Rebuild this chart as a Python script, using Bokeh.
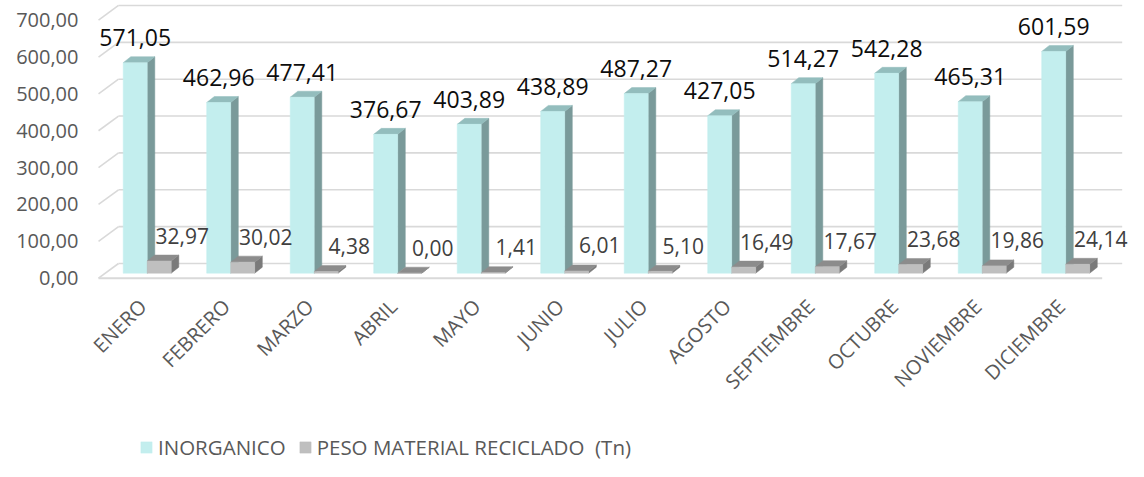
import numpy as np
from bokeh.plotting import figure
from bokeh.models import (LinearAxis, FixedTicker, Legend, LegendItem, Range1d)
from bokeh.core.properties import value
from bokeh.embed import file_html
from bokeh.resources import INLINE

# ---------------- data ----------------
months = ["ENERO", "FEBRERO", "MARZO", "ABRIL", "MAYO", "JUNIO", "JULIO",
          "AGOSTO", "SEPTIEMBRE", "OCTUBRE", "NOVIEMBRE", "DICIEMBRE"]
inorganico = [571.05, 462.96, 477.41, 376.67, 403.89, 438.89, 487.27,
              427.05, 514.27, 542.28, 465.31, 601.59]
reciclado = [32.97, 30.02, 4.38, 0.00, 1.41, 6.01, 5.10,
             16.49, 17.67, 23.68, 19.86, 24.14]
y_ticks = [0, 100, 200, 300, 400, 500, 600, 700]
y_tick_labels = ["0,00", "100,00", "200,00", "300,00", "400,00",
                 "500,00", "600,00", "700,00"]
series_names = ["INORGANICO", "PESO MATERIAL RECICLADO  (Tn)"]

# ---------------- geometry / style ----------------
FONT = "Open Sans"
PX_X = 83.5            # pixels per category
PX_Y = 0.3686          # pixels per value unit
BAR_W = 24 / PX_X
DEPTH_X = 7.6 / PX_X
DEPTH_Y = 6.0 / PX_Y
BASE = 5.0 / PX_Y
WALL_DX = 20 / PX_X
WALL_DY = 14.7 / PX_Y
FLOOR_L = -0.583
FLOOR_R_PAD = 0.437
GRID_COLOR = "#D9D9D9"

cyan = dict(front="#C3EEEE", top="#93BDBD", side="#7A9A9A")
grey = dict(front="#BFBFBF", top="#8C8C8C", side="#7A7A7A")

n = len(months)
idx = np.arange(n, dtype=float)

LEFT = 80
W, H = 1128, 461
x0_frame = (LEFT - 146.7) / PX_X
x1_frame = x0_frame + (W - LEFT) / PX_X
y1_frame = 277.7 / PX_Y
y0_frame = y1_frame - H / PX_Y

p = figure(width=W, height=H, output_backend="svg", toolbar_location=None,
           x_axis_type=None, y_axis_type=None,
           x_range=Range1d(x0_frame, x1_frame), y_range=Range1d(y0_frame, y1_frame),
           min_border_left=LEFT, min_border_right=0, min_border_top=0,
           min_border_bottom=0)
p.outline_line_color = None
p.background_fill_color = "white"
p.border_fill_color = "white"

# ---------------- walls / grid ----------------
floor_r = (n - 1) + FLOOR_R_PAD
ticks = np.array(y_ticks, dtype=float)
p.segment(x0=[FLOOR_L + WALL_DX] * len(ticks), x1=[floor_r + WALL_DX] * len(ticks),
          y0=ticks + WALL_DY, y1=ticks + WALL_DY,
          line_color=GRID_COLOR, line_width=1.6)
p.segment(x0=[FLOOR_L] * len(ticks), x1=[FLOOR_L + WALL_DX] * len(ticks),
          y0=ticks, y1=ticks + WALL_DY,
          line_color=GRID_COLOR, line_width=1.6)
p.segment(x0=[FLOOR_L], x1=[floor_r], y0=[0], y1=[0],
          line_color=GRID_COLOR, line_width=2)


# ---------------- 3D bars ----------------
def faces(x0, vals):
    v = np.array(vals, dtype=float)
    xl, xr = x0, x0 + BAR_W
    front_x = [[a, b, b, a] for a, b in zip(xl, xr)]
    front_y = [[BASE, BASE, BASE + t, BASE + t] for t in v]
    top_x = [[a, b, b + DEPTH_X, a + DEPTH_X] for a, b in zip(xl, xr)]
    top_y = [[BASE + t, BASE + t, BASE + t + DEPTH_Y, BASE + t + DEPTH_Y] for t in v]
    side_x = [[b, b + DEPTH_X, b + DEPTH_X, b] for b in xr]
    side_y = [[BASE, BASE + DEPTH_Y, BASE + t + DEPTH_Y, BASE + t] for t in v]
    return (front_x, front_y), (top_x, top_y), (side_x, side_y)


renders = []
for x0, vals, col in [(idx - BAR_W, inorganico, cyan), (idx, reciclado, grey)]:
    (fx, fy), (tx, ty), (sx, sy) = faces(x0, vals)
    p.patches(xs=sx, ys=sy, fill_color=col["side"], line_color=col["side"], line_width=0.5)
    p.patches(xs=tx, ys=ty, fill_color=col["top"], line_color=col["top"], line_width=0.5)
    r = p.patches(xs=fx, ys=fy, fill_color=col["front"], line_color=col["front"], line_width=0.5)
    renders.append(r)

# ---------------- value labels ----------------
fmt = lambda v: f"{v:.2f}".replace(".", ",")
inorg = np.array(inorganico)
rec = np.array(reciclado)
p.text(x=idx - BAR_W / 2, y=BASE + inorg + 24.8 / PX_Y,
       text=[fmt(v) for v in inorganico], text_align="center",
       text_baseline="middle", text_font=value(FONT),
       text_font_size="23px", text_color="#0D0D0D")
p.text(x=idx + BAR_W / 2 + 23 / PX_X, y=BASE + rec + 25.5 / PX_Y,
       text=[fmt(v) for v in reciclado], text_align="center",
       text_baseline="middle", text_font=value(FONT),
       text_font_size="21px", text_color="#404040")

# ---------------- category labels ----------------
p.text(x=idx - 14 / PX_X, y=[-15 / PX_Y] * n, text=months, angle=np.pi / 4,
       text_align="right", text_baseline="top", text_font=value(FONT),
       text_font_size="20px", text_color="#595959")

# ---------------- y axis ----------------
yaxis = LinearAxis(ticker=FixedTicker(ticks=y_ticks),
                   major_label_overrides={t: s for t, s in zip(y_ticks, y_tick_labels)})
yaxis.axis_line_color = None
yaxis.major_tick_line_color = None
yaxis.minor_tick_line_color = None
yaxis.major_tick_out = 0
yaxis.major_tick_in = 0
yaxis.major_label_standoff = 2
yaxis.major_label_text_font = FONT
yaxis.major_label_text_font_size = "20px"
yaxis.major_label_text_color = "#595959"
p.add_layout(yaxis, "left")

# ---------------- legend ----------------
legend = Legend(items=[LegendItem(label=series_names[0], renderers=[renders[0]]),
                       LegendItem(label=series_names[1], renderers=[renders[1]])],
                orientation="horizontal", location=(139 - LEFT, 0),
                glyph_width=14, glyph_height=14, label_standoff=5, spacing=12,
                padding=0, margin=0, border_line_color=None,
                background_fill_alpha=0,
                label_text_font=FONT, label_text_font_size="20.5px",
                label_text_color="#595959")
p.add_layout(legend)

open("out.html", "w").write(file_html(p, INLINE))
